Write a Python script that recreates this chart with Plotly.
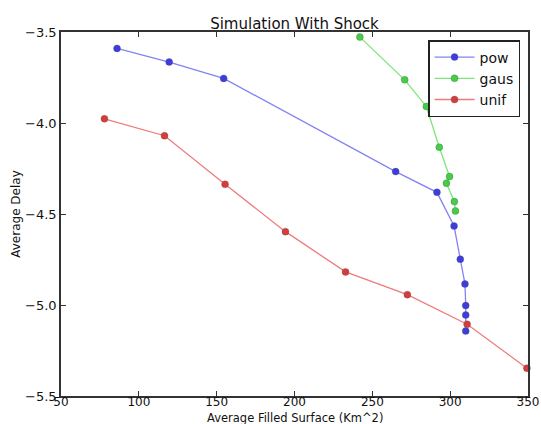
import plotly.graph_objects as go

pow_x = [86, 119.5, 154.5, 265, 291.5, 302.5, 306.5, 309.5, 310, 310, 310]
pow_y = [-3.59, -3.665, -3.755, -4.267, -4.381, -4.566, -4.748, -4.884, -5.003, -5.055, -5.143]

gaus_x = [242, 270.8, 284.7, 293, 299.6, 297.6, 302.7, 303.4]
gaus_y = [-3.528, -3.763, -3.909, -4.133, -4.294, -4.331, -4.432, -4.483]

unif_x = [77.9, 116.5, 155.4, 194.2, 232.8, 272.5, 310.9, 349.3]
unif_y = [-3.977, -4.070, -4.337, -4.597, -4.818, -4.943, -5.106, -5.347]

x_title = "Average Filled Surface (Km^2)"
y_title = "Average Delay"

series = [
    ("pow", pow_x, pow_y, "rgba(60,60,225,1)", "rgba(90,90,240,0.75)"),
    ("gaus", gaus_x, gaus_y, "rgba(70,205,70,1)", "rgba(100,225,100,0.85)"),
    ("unif", unif_x, unif_y, "rgba(215,60,60,1)", "rgba(235,100,100,0.85)"),
]

fig = go.Figure()
for name, xs, ys, mc, lc in series:
    fig.add_trace(go.Scatter(
        x=xs, y=ys, name=name, mode="lines+markers",
        line=dict(color=lc, width=1.3),
        marker=dict(color=mc, size=7, line=dict(color="rgba(80,80,80,0.6)", width=0.5)),
        cliponaxis=False,
    ))

font = "DejaVu Sans, sans-serif"
axis_common = dict(
    showgrid=False, zeroline=False, showline=True, linecolor="#333", linewidth=1.6,
    mirror="allticks", ticks="inside", ticklen=5, tickcolor="#333",
    automargin=False,
)
fig.update_layout(
    width=541, height=424,
    margin=dict(l=61, r=13, t=32, b=28),
    paper_bgcolor="white", plot_bgcolor="white",
    font=dict(family=font, color="#111"),
    title=dict(text="Simulation With Shock", x=0.5, xref="paper", xanchor="center",
               y=1, yref="paper", yanchor="bottom", pad=dict(b=3),
               font=dict(family=font, size=15, color="#111")),
    xaxis=dict(range=[50, 350], tickvals=[50, 100, 150, 200, 250, 300, 350],
               ticklabelstandoff=-6, tickfont=dict(family=font, size=12, color="#111"),
               **axis_common),
    yaxis=dict(range=[-5.5, -3.5], tickvals=[-5.5, -5.0, -4.5, -4.0, -3.5], tickformat=".1f",
               tickfont=dict(family=font, size=13, color="#111"),
               title=dict(text=y_title, standoff=2,
                          font=dict(family=font, size=12)),
               **axis_common),
    legend=dict(x=0.983, y=0.978, xanchor="right", yanchor="top",
                bordercolor="#222", borderwidth=1.5, bgcolor="white",
                font=dict(family=font, size=14, color="#111"),
                itemwidth=40),
    showlegend=True,
)
fig.add_annotation(text=x_title, xref="paper", yref="paper", x=0.5, y=-0.0591,
                   xanchor="center", yanchor="middle", showarrow=False, borderpad=0,
                   font=dict(family=font, size=11.5, color="#111"))
fig.write_html("out.html")
